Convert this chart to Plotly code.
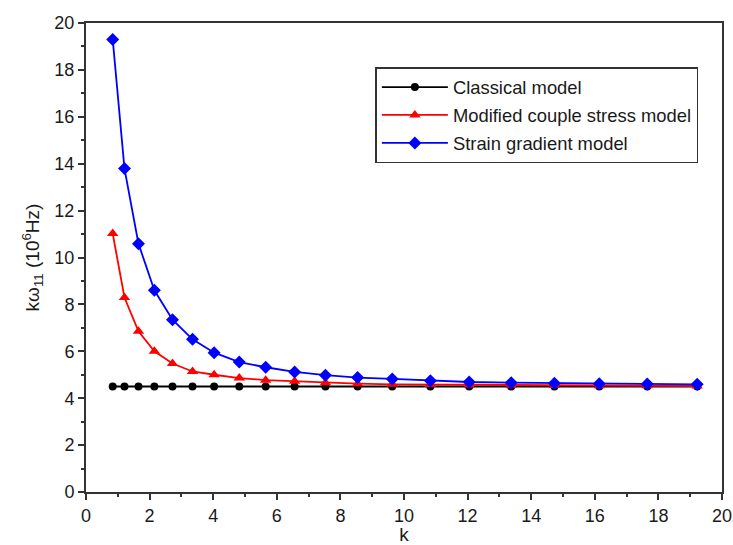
import plotly.graph_objects as go

# Size-dependent parameter k and the fundamental frequency for each model
k = [0.84, 1.21, 1.65, 2.15, 2.72, 3.35, 4.03, 4.82, 5.65, 6.56,
     7.53, 8.54, 9.63, 10.83, 12.05, 13.37, 14.73, 16.14, 17.65, 19.22]
classical = [4.50, 4.50, 4.50, 4.50, 4.50, 4.50, 4.50, 4.50, 4.50, 4.50,
             4.50, 4.50, 4.50, 4.50, 4.50, 4.50, 4.50, 4.50, 4.50, 4.50]
couple_stress = [11.02, 8.29, 6.85, 6.00, 5.48, 5.14, 5.00, 4.86, 4.77, 4.72,
                 4.66, 4.62, 4.59, 4.58, 4.56, 4.55, 4.54, 4.53, 4.53, 4.52]
strain_gradient = [19.30, 13.79, 10.59, 8.60, 7.35, 6.51, 5.94, 5.54, 5.32, 5.12,
                   4.98, 4.88, 4.82, 4.74, 4.69, 4.66, 4.64, 4.62, 4.61, 4.59]

x_ticks = [0, 2, 4, 6, 8, 10, 12, 14, 16, 18, 20]
y_ticks = [0, 2, 4, 6, 8, 10, 12, 14, 16, 18, 20]

FONT = "Arial, Liberation Sans, sans-serif"
AXIS_COLOR = "#333333"
TEXT_COLOR = "#1a1a1a"

fig = go.Figure()

series = [
    ("Classical model", classical, "black", "circle", 8),
    ("Modified couple stress model", couple_stress, "#ff0000", "triangle-up", 10),
    ("Strain gradient model", strain_gradient, "#0000ff", "diamond", 10),
]
for name, vals, color, symbol, size in series:
    fig.add_trace(go.Scatter(
        x=k, y=vals, name=name, mode="lines+markers", legendgroup=name,
        line=dict(color=color, width=1.8),
        marker=dict(color=color, symbol=symbol, size=size),
    ))

axis_common = dict(
    showline=True, linecolor=AXIS_COLOR, linewidth=2, mirror=True,
    showgrid=False, zeroline=False, automargin=False,
    ticks="outside", ticklen=6, tickwidth=1.5, tickcolor=AXIS_COLOR,
    tickfont=dict(family=FONT, size=18, color=TEXT_COLOR),
    minor=dict(ticks="outside", ticklen=3, tickwidth=1.5, tickcolor=AXIS_COLOR, dtick=1),
)

fig.update_xaxes(
    range=[0, 20], tickvals=x_ticks,
    title=dict(text="k", font=dict(family=FONT, size=19, color=TEXT_COLOR), standoff=3),
    **axis_common,
)
fig.update_yaxes(
    range=[0, 20], tickvals=y_ticks,
    title=dict(text="kω<sub>11</sub> (10<sup>6</sup>Hz)",
               font=dict(family=FONT, size=19, color=TEXT_COLOR), standoff=10),
    **axis_common,
)

fig.update_layout(
    width=733, height=545,
    margin=dict(l=86, r=11, t=23, b=53),
    paper_bgcolor="white", plot_bgcolor="white",
    showlegend=True,
    legend=dict(
        x=0.455, y=0.906, xanchor="left", yanchor="top",
        bgcolor="white", bordercolor=AXIS_COLOR, borderwidth=1.5,
        font=dict(family=FONT, size=18.4, color=TEXT_COLOR),
        itemwidth=66, traceorder="grouped", tracegroupgap=1,
    ),
)

fig.write_html("out.html")
